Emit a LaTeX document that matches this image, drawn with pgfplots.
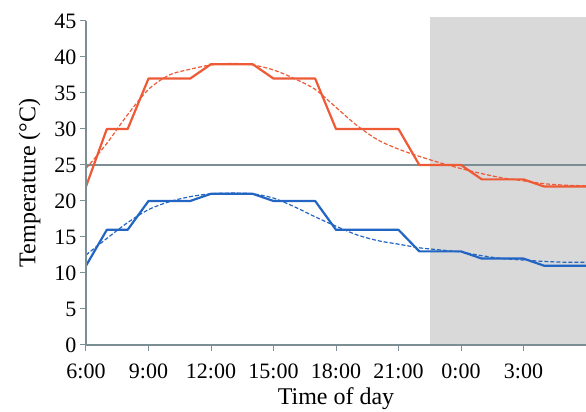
\documentclass[border=0pt]{standalone}
\usepackage{fontspec}
\setmainfont{Liberation Serif}
\usepackage{pgfplots}
\pgfplotsset{compat=1.18}
\usetikzlibrary{calc}
\definecolor{hot}{HTML}{EE5A36}
\definecolor{cold}{HTML}{2265C2}
\definecolor{axgray}{HTML}{7A8E94}
\definecolor{night}{HTML}{D9D9D9}

\begin{document}
\begin{tikzpicture}
\begin{axis}[
    width=500pt, height=324pt, scale only axis,
    xmin=6, xmax=30, ymin=0, ymax=45,
    clip=false,
    axis lines*=left,
    axis line style={axgray, line width=1.2pt},
    xtick={6,9,12,15,18,21,24,27},
    xticklabels={6:00,9:00,12:00,15:00,18:00,21:00,0:00,3:00},
    ytick={0,5,...,45},
    tick align=outside,
    major tick length=6pt,
    tick style={axgray, line width=1pt},
    /pgf/number format/assume math mode=true,
    ticklabel style={font=\fontsize{22}{24}\selectfont},
    xticklabel style={yshift=-9pt},
    label style={font=\fontsize{24}{27}\selectfont},
    xlabel={Time of day},
    ylabel={Temperature (°C)},
    xlabel style={yshift=-2pt},
    ylabel style={yshift=7pt},
    axis on top,
]
% night period
\addplot[draw=none, fill=night] coordinates {(22.5,0) (22.5,45.5) (30,45.5) (30,0)} -- cycle;
% reference line
\addplot[axgray, line width=1.5pt] coordinates {(6,25) (30,25)};
% measured (steps)
\addplot[hot, line width=2.2pt, line join=round] coordinates {
  (6,22) (7,30) (8,30) (9,37) (10,37) (11,37) (12,39) (13,39) (14,39)
  (15,37) (16,37) (17,37) (18,30) (19,30) (20,30) (21,30) (22,25) (23,25)
  (24,25) (25,23) (26,23) (27,23) (28,22) (29,22) (30,22)};
\addplot[cold, line width=2.2pt, line join=round] coordinates {
  (6,11) (7,16) (8,16) (9,20) (10,20) (11,20) (12,21) (13,21) (14,21)
  (15,20) (16,20) (17,20) (18,16) (19,16) (20,16) (21,16) (22,13) (23,13)
  (24,13) (25,12) (26,12) (27,12) (28,11) (29,11) (30,11)};
% fitted trends
\addplot[hot, line width=1.2pt, smooth, dash pattern=on 4pt off 2pt] coordinates {
  (6,24.5) (7,28) (8,32) (9,35.5) (10,37.5) (11,38.3) (12,38.9) (13,39.1)
  (14,38.9) (15,38.2) (16,37) (17,35.5) (18,33) (19,30.5) (20,28.5) (21,27.2)
  (22,26.2) (23,25.3) (24,24.5) (25,23.8) (26,23.2) (27,22.8) (28,22.4)
  (29,22.2) (30,22.1)};
\addplot[cold, line width=1.2pt, smooth, dash pattern=on 4pt off 2pt] coordinates {
  (6,12.5) (7,14.8) (8,17) (9,18.8) (10,19.9) (11,20.6) (12,21) (13,21.1)
  (14,21) (15,20.4) (16,19.2) (17,17.8) (18,16.5) (19,15.3) (20,14.5) (21,14)
  (22,13.5) (23,13.2) (24,12.9) (25,12.4) (26,12) (27,11.8) (28,11.6)
  (29,11.5) (30,11.5)};
\coordinate (bl) at (rel axis cs:0,0);
\coordinate (tr) at (rel axis cs:1,1);
\end{axis}
\pgfresetboundingbox
\path ($(bl)+(-86pt,-67pt)$) rectangle ($(tr)+(0,21pt)$);
\end{tikzpicture}
\end{document}
